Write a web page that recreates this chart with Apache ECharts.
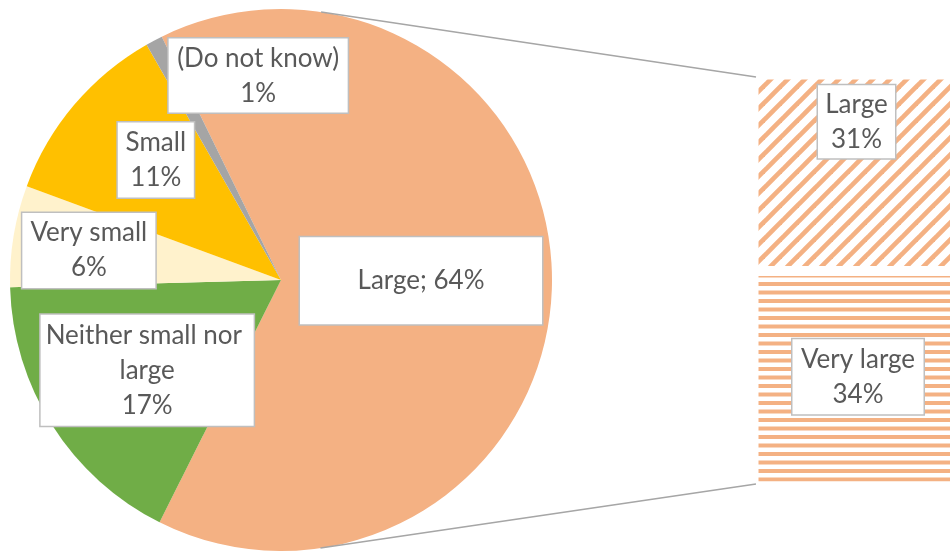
<!DOCTYPE html>
<html>
<head>
<meta charset="utf-8">
<script src="https://cdn.jsdelivr.net/npm/echarts@6/dist/echarts.min.js"></script>
<style>
  html, body { margin: 0; padding: 0; background: #ffffff; }
  #chart { width: 950px; height: 552px; }
</style>
</head>
<body>
<div id="chart"></div>
<script>
// Main pie: answer categories and their shares (%)
const categories = ['Large', 'Neither small nor large', 'Very small', 'Small', '(Do not know)'];
const shares = [64, 17, 6, 11, 1];

// Split bar: the "Large" slice broken down (%), bottom to top
const splitCategories = ['Very large', 'Large'];
const splitShares = [34, 31];

// ---- styling ----
const pieColors = ['#F4B183', '#70AD47', '#FFF2CC', '#FFC000', '#A5A5A5'];
const ORANGE = '#F4B183';
const TEXT = '#595959';
const BOX_BORDER = '#BFBFBF';
const FONT = 'Lato, "Open Sans", sans-serif';
const FONT_SIZE = 26;
const LINE_H = 35;

// label boxes: [outer width, outer height], and shift from the default inside position
const pieLabelBox = [[242, 87], [213, 111], [133, 75], [76, 75], [179, 74]];
const pieLabelShift = [[1.5, 0], [-17, 16], [-55.5, -7], [-19.5, -30.5], [42, -82]];
const barLabelBox = [[131, 75], [77, 73]];
const barLabelShift = [[0, -2], [-1.5, -51]];

const PIE_CENTER = [281, 280];
const PIE_R = 271;
const BAR_BORDER = 5;
const GRID = { left: 753.5, top: 74.5, width: 209, height: 412 };

function boxLabel(size, lines) {
  const pad = Math.max(0, (size[1] - lines * LINE_H) / 2);
  return {
    width: size[0],
    padding: [pad, 0],
    align: 'center'
  };
}

function stripePattern(diagonal) {
  const c = document.createElement('canvas');
  const ctx = c.getContext('2d');
  if (diagonal) {
    c.width = 17; c.height = 17;
    ctx.fillStyle = '#ffffff';
    ctx.fillRect(0, 0, 17, 17);
    ctx.strokeStyle = ORANGE;
    ctx.lineWidth = 4.7;
    [0, 17, 34].forEach(function (k) {
      ctx.beginPath();
      ctx.moveTo(k + 6, -6);
      ctx.lineTo(-6, k + 6);
      ctx.stroke();
    });
  } else {
    c.width = 4; c.height = 17;
    ctx.fillStyle = '#ffffff';
    ctx.fillRect(0, 0, 4, 17);
    ctx.fillStyle = ORANGE;
    ctx.fillRect(0, 1.5, 4, 4);
    ctx.fillRect(0, 10, 4, 4);
  }
  return { image: c, repeat: 'repeat' };
}

const labelBase = {
  show: true,
  color: TEXT,
  fontFamily: FONT,
  fontSize: FONT_SIZE,
  lineHeight: LINE_H,
  backgroundColor: '#ffffff',
  borderColor: BOX_BORDER,
  borderWidth: 1.5,
  overflow: 'break'
};

const pieData = categories.map(function (name, i) {
  const oneLine = i === 0;
  const lines = oneLine ? 1 : (i === 1 ? 3 : 2);
  return {
    name: name,
    value: shares[i],
    itemStyle: { color: pieColors[i] },
    label: Object.assign(boxLabel(pieLabelBox[i], lines), {
      formatter: oneLine ? '{b}; {c}%' : '{b}\n{c}%'
    })
  };
});

const barPatterns = [stripePattern(false), stripePattern(true)];
const barTotal = splitShares.reduce(function (a, b) { return a + b; }, 0);

const barSeries = splitCategories.map(function (name, i) {
  return {
    type: 'bar',
    name: name,
    stack: 'split',
    barWidth: '100%',
    silent: true,
    data: [splitShares[i]],
    itemStyle: {
      color: barPatterns[i],
      borderColor: '#ffffff',
      borderWidth: BAR_BORDER
    },
    label: Object.assign({}, labelBase, boxLabel(barLabelBox[i], 2), {
      position: 'inside',
      formatter: '{a}\n{c}%'
    }),
    labelLayout: function () {
      return { dx: barLabelShift[i][0], dy: barLabelShift[i][1] };
    }
  };
});

// Connector lines: tangents from the split bar's outer corners to the pie's outline
function tangent(px, py, upper) {
  const vx = px - PIE_CENTER[0], vy = py - PIE_CENTER[1];
  const d = Math.sqrt(vx * vx + vy * vy);
  const theta = Math.atan2(vy, vx);
  const alpha = Math.acos(PIE_R / d);
  const a = upper ? theta - alpha : theta + alpha;
  return [PIE_CENTER[0] + PIE_R * Math.cos(a), PIE_CENTER[1] + PIE_R * Math.sin(a)];
}
const half = BAR_BORDER / 2;
const barX = GRID.left + half;
const barTop = GRID.top + half;
const barBottom = GRID.top + GRID.height - half;
const t1 = tangent(barX, barTop, true);
const t2 = tangent(barX, barBottom, false);
const connectorStyle = { stroke: '#A6A6A6', lineWidth: 1.5 };

const chart = echarts.init(document.getElementById('chart'), null, { renderer: 'canvas' });

chart.setOption({
  animation: false,
  backgroundColor: '#ffffff',
  grid: Object.assign({ outerBoundsMode: 'none', containLabel: false }, GRID),
  xAxis: { type: 'category', data: ['split'], show: false },
  yAxis: { type: 'value', min: 0, max: barTotal, show: false },
  graphic: [
    { type: 'line', silent: true, z: 10, shape: { x1: t1[0], y1: t1[1], x2: barX, y2: barTop }, style: connectorStyle },
    { type: 'line', silent: true, z: 10, shape: { x1: t2[0], y1: t2[1], x2: barX, y2: barBottom }, style: connectorStyle }
  ],
  series: [
    {
      type: 'pie',
      center: PIE_CENTER,
      radius: PIE_R,
      startAngle: 116.1,
      clockwise: true,
      silent: true,
      avoidLabelOverlap: false,
      emphasis: { disabled: true },
      label: Object.assign({}, labelBase, { position: 'inside' }),
      labelLine: { show: false },
      labelLayout: function (p) {
        const s = pieLabelShift[p.dataIndex];
        return { dx: s[0], dy: s[1] };
      },
      data: pieData
    }
  ].concat(barSeries)
});
</script>
</body>
</html>
